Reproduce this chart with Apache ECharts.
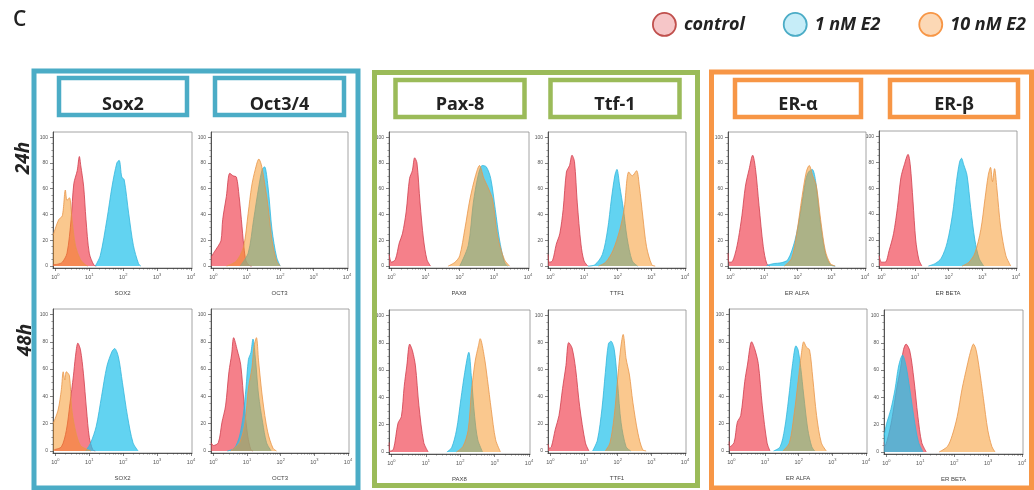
<!DOCTYPE html>
<html>
<head>
<meta charset="utf-8">
<script src="https://cdn.jsdelivr.net/npm/echarts/dist/echarts.min.js"></script>
<style>
  html, body { margin: 0; padding: 0; background: #fff; }
  #chart { width: 1034px; height: 490px; }
</style>
</head>
<body>
<div id="chart"></div>
<script>
// Flow cytometry histograms: marker expression after 24 h / 48 h of E2 treatment.
// Each curve is [fluorescence intensity, % of max count].

const markers = ['Sox2', 'Oct3/4', 'Pax-8', 'Ttf-1', 'ER-α', 'ER-β'];
const channelNames = ['SOX2', 'OCT3', 'PAX8', 'TTF1', 'ER ALFA', 'ER BETA'];
const timePoints = ['24h', '48h'];
const treatments = ['control', '1 nM E2', '10 nM E2'];
const xTicks = [1, 10, 100, 1000, 10000];
const xMinorTicks = [2,3,4,5,6,7,8,9,20,30,40,50,60,70,80,90,200,300,400,500,600,700,800,900,2000,3000,4000,5000,6000,7000,8000,9000];
const yTicks = [0, 20, 40, 60, 80, 100];
const yMinorTicks = [5,10,15,25,30,35,45,50,55,65,70,75,85,90,95];

// ---- 24 h ----
const sox2_24_ctl = [[0.86,1],[1.2,1.5],[1.6,3],[2.2,10],[2.9,36],[3.5,64],[4.4,74],[5.1,85],[5.6,78],[6.8,62],[8,36],[10,10],[13.5,1],[16,0]];
const sox2_24_e1  = [[15,0],[21,8],[33,36],[47,62],[65,80],[76,82],[91,69],[107,67],[145,41],[200,16],[282,2],[330,0]];
const sox2_24_e10 = [[0.86,24],[1.25,36],[1.6,39],[1.97,59],[2.2,51],[2.6,53],[3.1,36],[3.9,16],[5.5,5],[7.6,1],[9,0]];

const oct_24_ctl = [[0.86,7],[1.07,11],[1.35,15],[1.7,20],[1.9,36],[2.45,54],[3.1,72],[3.9,70],[4.9,69],[5.9,54],[6.9,36],[8.2,15],[9.5,4],[12,0.5],[14,0]];
const oct_24_e1  = [[6.3,0],[11,10],[16,36],[23,62],[29,75],[34,77],[43,62],[57,28],[78,7],[100,0]];
const oct_24_e10 = [[2.5,0],[4.9,4],[8,15],[11,41],[14,62],[18,75],[23,83],[27,79],[32,69],[43,47],[57,20],[78,4],[100,0]];

const pax_24_ctl = [[0.86,9],[1.0,3],[1.3,5],[1.7,18],[2.1,25],[2.7,42],[3.4,68],[4.1,74],[4.8,84],[5.6,80],[6.9,49],[8.7,21],[11,5],[14,0]];
const pax_24_e1  = [[100,0],[178,16],[250,49],[345,70],[457,78],[600,77],[810,68],[1100,44],[1450,21],[2040,3],[2500,0]];
const pax_24_e10 = [[46,0],[73,3],[100,8],[142,29],[200,52],[290,70],[380,78],[510,68],[650,62],[910,52],[1290,23],[2040,5],[2880,0]];

const ttf_24_ctl = [[0.86,9],[0.92,3],[1.15,4],[1.5,17],[1.9,25],[2.4,44],[3.0,73],[3.7,78],[4.4,86],[5.2,81],[6.3,49],[8.1,17],[10,4],[13,0]];
const ttf_24_e1  = [[13,0],[21,1],[35,9],[50,28],[65,52],[82,70],[95,75],[115,62],[148,44],[190,22],[270,4],[390,0]];
const ttf_24_e10 = [[27,0],[44,3],[72,12],[115,28],[155,44],[213,73],[270,70],[363,74],[440,62],[560,38],[720,15],[1030,1],[1300,0]];

const era_24_ctl = [[0.86,10],[0.9,3],[1.07,3],[1.4,10],[1.75,22],[2.2,39],[2.8,62],[3.6,75],[4.6,86],[5.6,75],[7.1,47],[9.5,15],[12,2],[15,0]];
const era_24_e1  = [[12,0.5],[20,2],[32,2.5],[51,5],[83,20],[120,41],[174,67],[210,73],[270,75],[345,65],[460,36],[660,10],[930,1],[1300,0]];
const era_24_e10 = [[40,0],[66,6],[93,25],[135,54],[180,73],[220,78],[280,70],[360,62],[480,36],[660,12],[930,2],[1300,0]];

const erb_24_ctl = [[0.86,8],[1.0,3],[1.3,3],[1.7,12],[2.3,25],[3.0,45],[3.8,68],[4.8,78],[6.2,86],[7.2,78],[8.7,50],[10.5,20],[13,5],[16,0]];
const erb_24_e1  = [[25,0],[40,2],[60,6],[90,18],[130,40],[170,65],[210,80],[240,83],[280,78],[350,70],[450,45],[600,20],[800,6],[1100,0]];
const erb_24_e10 = [[250,0],[400,3],[600,10],[900,28],[1200,52],[1500,70],[1750,76],[2000,65],[2300,75],[2700,60],[3500,30],[5000,8],[7000,0]];

// ---- 48 h ----
const sox2_48_ctl = [[0.93,1],[1.5,3],[2.1,15],[2.7,35],[3.4,55],[3.9,69],[4.6,79],[5.5,74],[6.7,57],[8.3,30],[10,10],[12.6,1],[15,0]];
const sox2_48_e1  = [[7.9,0],[11,6],[16,18],[23,40],[33,62],[47,73],[56,75],[72,69],[95,50],[135,25],[195,6],[275,0]];
const sox2_48_e10 = [[0.86,20],[1.2,30],[1.5,45],[1.7,58],[1.9,52],[2.1,58],[2.6,55],[3.0,32],[3.9,15],[5.5,4],[8.9,1],[11,0]];

const oct_48_ctl = [[0.86,6],[1.0,4],[1.4,6],[1.8,21],[2.3,33],[2.9,58],[3.5,71],[4.0,83],[5.1,74],[6.5,63],[8.3,33],[10.5,11],[13,1],[15,0]];
const oct_48_e1  = [[2.6,0],[4.2,2],[6,11],[7.7,26],[9.3,46],[11,67],[13,72],[15,82],[18,66],[22,41],[29,21],[38,6],[52,0]];
const oct_48_e10 = [[3.3,0],[6,6],[8.7,21],[11,46],[14,61],[16,76],[19,83],[22,66],[29,38],[41,14],[59,2],[75,0]];

const pax_48_ctl = [[0.86,7],[0.92,0.5],[1.15,2],[1.55,21],[1.95,26],[2.35,48],[2.8,63],[3.4,79],[4.1,74],[5.0,63],[6.3,34],[8.7,7],[11.7,0]];
const pax_48_e1  = [[41,0],[56,3],[78,16],[105,39],[135,58],[178,73],[210,56],[263,26],[324,9],[447,0]];
const pax_48_e10 = [[78,0],[120,4],[170,16],[210,43],[270,66],[340,78],[380,83],[500,70],[620,53],[800,31],[1070,9],[1480,0]];

const ttf_48_ctl = [[0.86,5],[0.93,2],[1.07,3],[1.4,16],[1.8,26],[2.3,46],[2.9,63],[3.5,80],[4.4,76],[5.6,61],[7.4,33],[11,6],[14,0]];
const ttf_48_e1  = [[18,0],[25,8],[34,31],[43,58],[53,79],[63,81],[79,75],[100,49],[126,21],[178,3],[245,0]];
const ttf_48_e10 = [[43,0],[59,6],[79,26],[102,56],[123,76],[145,86],[178,68],[224,56],[282,36],[400,13],[550,1],[700,0]];

const era_48_ctl = [[0.86,7],[0.89,3],[1.2,6],[1.5,21],[1.9,26],[2.5,51],[3.0,63],[4.0,80],[4.9,75],[6.3,64],[8.3,33],[11.5,6],[14,0]];
const era_48_e1  = [[18,0],[28,3],[38,16],[50,38],[66,64],[83,77],[96,74],[115,61],[141,41],[186,16],[245,3],[300,0]];
const era_48_e10 = [[34,0],[53,6],[74,28],[96,51],[120,71],[141,80],[170,76],[210,74],[263,53],[340,26],[470,6],[660,0]];

const erb_48_ctl = [[0.86,7],[0.89,4],[1.2,14],[1.5,26],[2.0,46],[2.6,61],[3.2,75],[3.8,79],[4.9,74],[6.5,53],[8.5,26],[11,7],[15,0]];
const erb_48_e1  = [[0.86,12],[1.02,21],[1.35,31],[1.8,46],[2.3,63],[3.0,71],[3.8,63],[4.9,46],[6.9,21],[8.9,7],[12,0]];
const erb_48_e10 = [[36,0],[63,4],[87,12],[123,26],[170,46],[240,63],[300,73],[370,79],[440,75],[550,61],[730,39],[980,16],[1290,4],[1600,0]];

// Panels in reading order: row 24h, then row 48h; columns follow the marker list.
const panelCurves = [
  [sox2_24_ctl, sox2_24_e1, sox2_24_e10], [oct_24_ctl, oct_24_e1, oct_24_e10],
  [pax_24_ctl, pax_24_e1, pax_24_e10],    [ttf_24_ctl, ttf_24_e1, ttf_24_e10],
  [era_24_ctl, era_24_e1, era_24_e10],    [erb_24_ctl, erb_24_e1, erb_24_e10],
  [sox2_48_ctl, sox2_48_e1, sox2_48_e10], [oct_48_ctl, oct_48_e1, oct_48_e10],
  [pax_48_ctl, pax_48_e1, pax_48_e10],    [ttf_48_ctl, ttf_48_e1, ttf_48_e10],
  [era_48_ctl, era_48_e1, era_48_e10],    [erb_48_ctl, erb_48_e1, erb_48_e10]
];

// ---- layout & styling ----
const gridRects = [
  [53,132,139,136],[211,132,137,136],[389,132,140,136],[548,132,138,136],[728,132,138,136],[879,131,138,137],
  [53,309,139,144],[211,309,138,144],[389,310,141,144],[548,310,138,143],[729,309,138,144],[884,310,139,144]
];
const groupColors = ['#4BACC6', '#9BBB59', '#F79646'];
const groupBoxes = [[34,71,324,417],[374.5,72.5,323,413],[711.5,72,320,416]];
const headerBoxes = [[59,78,128,37],[215,78,129,37],[395.5,80,129,37],[550.5,80,129,37],[735,80,126,37],[890,80,128,37]];
const lineColors = ['#cf3d4c', '#33b6dc', '#e99649'];
const areaColors = ['rgba(240,68,82,0.68)', 'rgba(38,194,236,0.72)', 'rgba(245,145,30,0.5)'];
const legendFill = ['#f6c6c8', '#c6edf8', '#fcd8b5'];
const legendBorder = ['#c0504d', '#4BACC6', '#F79646'];

const X_MIN = 0.85, X_MAX = 10700, Y_MIN = -1.5, Y_MAX = 104;
const tickFont = 'Liberation Sans';
const mainFont = 'Open Sans';

const grids = [], xAxes = [], yAxes = [], series = [];

gridRects.forEach((r) => {
  grids.push({ left: r[0], top: r[1], width: r[2], height: r[3], show: true,
    borderColor: '#8d8d8d', borderWidth: 0.8, backgroundColor: '#fff' });
});

// major axes (labels, long ticks)
gridRects.forEach((r, i) => {
  xAxes.push({
    type: 'log', logBase: 10, gridIndex: i, min: X_MIN, max: X_MAX, position: 'bottom',
    name: channelNames[i % 6], nameLocation: 'middle', nameGap: 22,
    nameTextStyle: { fontFamily: tickFont, fontSize: 6, color: '#444' },
    axisLine: { onZero: false, lineStyle: { color: '#333', width: 0.8 } },
    axisTick: { customValues: xTicks, length: 3, lineStyle: { color: '#333', width: 0.6 } },
    axisLabel: { customValues: xTicks, margin: 5, hideOverlap: false,
      formatter: v => '{b|10}{s|' + Math.round(Math.log10(v)) + '}',
      rich: { b: { fontFamily: tickFont, fontSize: 5.5, color: '#555' },
              s: { fontFamily: tickFont, fontSize: 4, color: '#555', padding: [0, 0, 4, 0] } } },
    splitLine: { show: false }
  });
  yAxes.push({
    type: 'value', gridIndex: i, min: Y_MIN, max: Y_MAX, position: 'left',
    axisLine: { show: true, onZero: false, lineStyle: { color: '#333', width: 0.8 } },
    axisTick: { show: true, customValues: yTicks, length: 3, lineStyle: { color: '#333', width: 0.6 } },
    axisLabel: { customValues: yTicks, margin: 5, fontFamily: tickFont, fontSize: 5, color: '#555' },
    splitLine: { show: false }
  });
});
// minor tick axes overlaid on the same edges
gridRects.forEach((r, i) => {
  xAxes.push({
    type: 'log', logBase: 10, gridIndex: i, min: X_MIN, max: X_MAX, position: 'bottom', offset: 0,
    axisLine: { show: false, onZero: false },
    axisTick: { customValues: xMinorTicks, length: 1.6, lineStyle: { color: '#444', width: 0.5 } },
    axisLabel: { show: false }, splitLine: { show: false }
  });
  yAxes.push({
    type: 'value', gridIndex: i, min: Y_MIN, max: Y_MAX, position: 'left', offset: 0,
    axisLine: { show: false, onZero: false },
    axisTick: { show: true, customValues: yMinorTicks, length: 1.6, lineStyle: { color: '#444', width: 0.5 } },
    axisLabel: { show: false }, splitLine: { show: false }
  });
});

panelCurves.forEach((curves, i) => {
  curves.forEach((data, k) => {
    series.push({
      type: 'line', name: treatments[k], xAxisIndex: i, yAxisIndex: i,
      data: data, smooth: 0.3, symbol: 'none', z: 2 + k,
      itemStyle: { color: lineColors[k] },
      lineStyle: { color: lineColors[k], width: 0.8 },
      areaStyle: { color: areaColors[k], opacity: 1 }
    });
  });
});

const graphics = [
  { type: 'text', left: 13, top: 10, style: { text: 'C', font: '600 21px "Open Sans"', fill: '#222' } }
];
groupBoxes.forEach((b, g) => {
  graphics.push({ type: 'rect', shape: { x: b[0], y: b[1], width: b[2], height: b[3] },
    style: { fill: 'none', stroke: groupColors[g], lineWidth: 5 }, z: 1 });
});
headerBoxes.forEach((b, m) => {
  const col = groupColors[Math.floor(m / 2)];
  graphics.push({ type: 'rect', shape: { x: b[0], y: b[1], width: b[2], height: b[3] },
    style: { fill: '#fff', stroke: col, lineWidth: 4.5 }, z: 1 });
  graphics.push({ type: 'text', x: b[0] + b[2] / 2, y: 105,
    style: { text: markers[m], font: 'bold 18px "Open Sans"', fill: '#222', textAlign: 'center', textVerticalAlign: 'middle' }, z: 2 });
});
[[24, 158], [26, 340]].forEach((p, t) => {
  graphics.push({ type: 'text', x: p[0], y: p[1], rotation: Math.PI / 2,
    style: { text: timePoints[t], font: 'italic bold 19px "Open Sans"', fill: '#222', textAlign: 'center', textVerticalAlign: 'middle' } });
});

const option = {
  animation: false,
  backgroundColor: '#fff',
  grid: grids,
  xAxis: xAxes,
  yAxis: yAxes,
  legend: {
    left: 647, top: 7, icon: 'circle', itemWidth: 23, itemHeight: 23, itemGap: 38,
    selectedMode: false,
    textStyle: { fontFamily: mainFont, fontStyle: 'italic', fontWeight: 'bold', fontSize: 18, color: '#222', padding: [0, 0, 0, 3] },
    data: treatments.map((t, k) => ({ name: t,
      itemStyle: { color: legendFill[k], borderColor: legendBorder[k], borderWidth: 1.8 } }))
  },
  graphic: graphics,
  series: series
};

const chart = echarts.init(document.getElementById('chart'), null, { renderer: 'canvas' });
chart.setOption(option);
</script>
</body>
</html>
